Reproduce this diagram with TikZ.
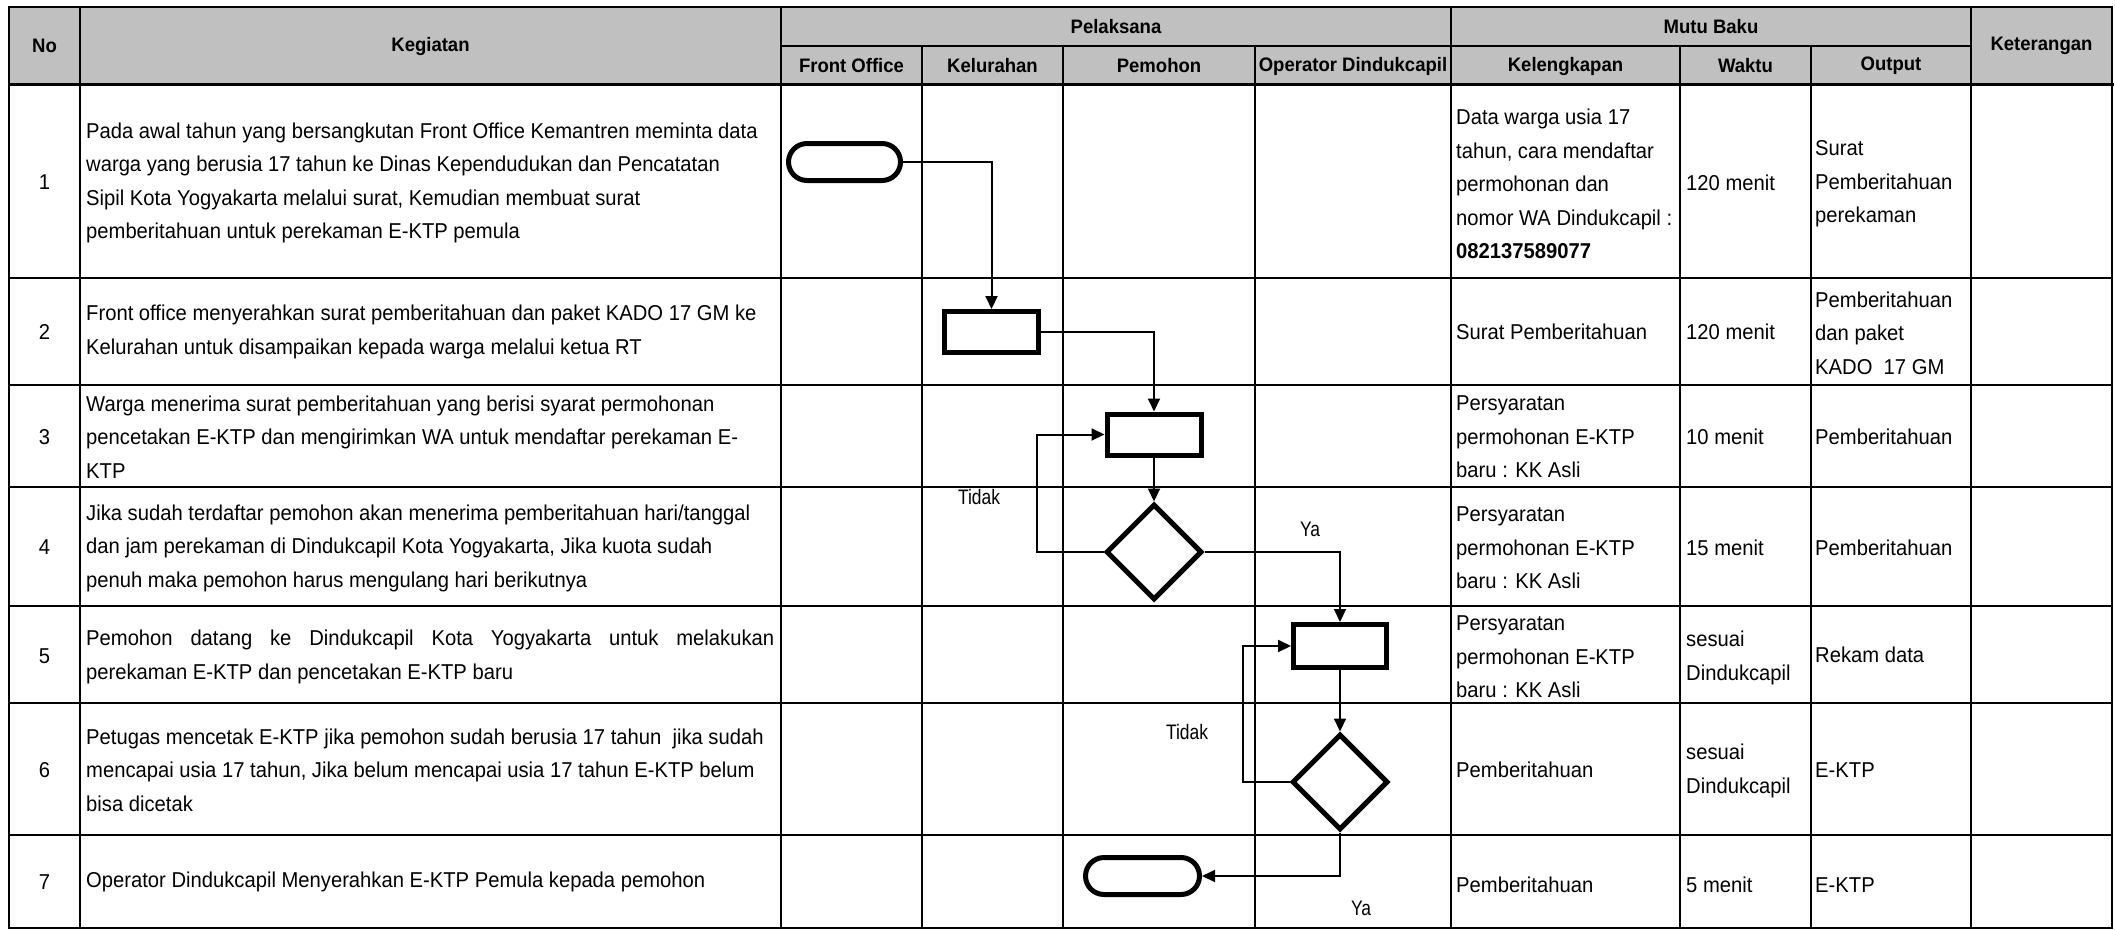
\documentclass[tikz,border=0pt]{standalone}
\usepackage{fontspec}
\setmainfont{Liberation Sans}
\newfontfamily\bodyfont{Liberation Sans}[FakeStretch=0.94]
\newfontfamily\headfont{Liberation Sans}[FakeStretch=0.95]
\newfontfamily\narrowfont{Liberation Sans}[FakeStretch=0.83]
\usetikzlibrary{arrows.meta,shapes.geometric,shapes.misc}
\definecolor{headgray}{RGB}{192,192,192}
\tikzset{
  gridline/.style={line width=2.2bp, line cap=rect},
  body/.style={font=\bodyfont\fontsize{21.5bp}{33.5bp}\selectfont, inner sep=0pt, align=left, anchor=west},
  numtext/.style={font=\bodyfont\fontsize{21.5bp}{24bp}\selectfont, inner sep=0pt},
  head/.style={font=\headfont\bfseries\fontsize{19.5bp}{22bp}\selectfont, inner sep=0pt},
  tag/.style={font=\narrowfont\fontsize{21bp}{24bp}\selectfont, inner sep=0pt},
  procbox/.style={draw, line width=5bp, minimum width=94bp, minimum height=41bp, inner sep=0pt},
  decbox/.style={draw, diamond, line width=5bp, minimum width=96bp, minimum height=96bp, inner sep=0pt},
  termbox/.style={draw, rounded rectangle, line width=5bp, minimum width=112bp, minimum height=37bp, inner sep=0pt},
  flow/.style={line width=2bp, -{Triangle[length=13bp,width=12bp]}},
}
\begin{document}
\begin{tikzpicture}[x=1bp,y=-1bp]
\useasboundingbox (0,0) rectangle (2115,930);
\fill[white] (0,0) rectangle (2115,930);

% ---------- table frame ----------
\fill[headgray] (9,7) rectangle (2112,84);
\draw[gridline] (9,7) -- (2112,7);
\draw[gridline] (781,46) -- (1971,46);
\draw[gridline, line width=3bp] (9,84) -- (2112,84);
\foreach \y in {278,385,487,606,703,835,928} \draw[gridline] (9,\y) -- (2112,\y);
\foreach \x in {9,80,781,1451,1971,2112} \draw[gridline] (\x,7) -- (\x,928);
\foreach \x in {922,1063,1255,1680,1811} \draw[gridline] (\x,46) -- (\x,928);

% ---------- header ----------
\node[head] (hno)  at (44.5,46)  {No};
\node[head] (hkeg) at (430.5,46) {Kegiatan};
\node[head] (hpel) at (1116,27)  {Pelaksana};
\node[head] (hmut) at (1711,27)  {Mutu Baku};
\node[head] (hket) at (2041.5,46) {Keterangan};
\node[head] (hfo)  at (851.5,66) {Front Office};
\node[head] (hkel) at (992.5,66) {Kelurahan};
\node[head] (hpem) at (1159,66)  {Pemohon};
\node[head] (hop)  at (1353,66)  {Operator Dindukcapil};
\node[head] (hklk) at (1565.5,66) {Kelengkapan};
\node[head] (hwkt) at (1745.5,66) {Waktu};
\node[head] (hout) at (1891,66)  {Output};

% ---------- row numbers ----------
\node[numtext] (n1) at (44.5,182) {1};
\node[numtext] (n2) at (44.5,332) {2};
\node[numtext] (n3) at (44.5,437) {3};
\node[numtext] (n4) at (44.5,547) {4};
\node[numtext] (n5) at (44.5,656) {5};
\node[numtext] (n6) at (44.5,770) {6};
\node[numtext] (n7) at (44.5,882) {7};

% ---------- activities ----------
\node[body] (k1) at (86,183) {Pada awal tahun yang bersangkutan Front Office Kemantren meminta data\\
  warga yang berusia 17 tahun ke Dinas Kependudukan dan Pencatatan\\
  Sipil Kota Yogyakarta melalui surat, Kemudian membuat surat\\
  pemberitahuan untuk perekaman E-KTP pemula};
\node[body] (k2) at (86,332) {Front office menyerahkan surat pemberitahuan dan paket KADO 17 GM ke\\
  Kelurahan untuk disampaikan kepada warga melalui ketua RT};
\node[body] (k3) at (86,437) {Warga menerima surat pemberitahuan yang berisi syarat permohonan\\
  pencetakan E-KTP dan mengirimkan WA untuk mendaftar perekaman E-\\
  KTP};
\node[body] (k4) at (86,548) {Jika sudah terdaftar pemohon akan menerima pemberitahuan hari/tanggal\\
  dan jam perekaman di Dindukcapil Kota Yogyakarta, Jika kuota sudah\\
  penuh maka pemohon harus mengulang hari berikutnya};
\node[body] (k5) at (86,657) {\makebox[688bp][s]{Pemohon datang ke Dindukcapil Kota Yogyakarta untuk melakukan}\\
  perekaman E-KTP dan pencetakan E-KTP baru};
\node[body] (k6) at (86,770) {Petugas mencetak E-KTP jika pemohon sudah berusia 17 tahun~ jika sudah\\
  mencapai usia 17 tahun, Jika belum mencapai usia 17 tahun E-KTP belum\\
  bisa dicetak};
\node[body] (k7) at (86,882) {Operator Dindukcapil Menyerahkan E-KTP Pemula kepada pemohon};

% ---------- Kelengkapan ----------
\node[body] (l1) at (1456,184) {Data warga usia 17\\tahun, cara mendaftar\\permohonan dan\\nomor WA Dindukcapil :\\\textbf{082137589077}};
\node[body] (l2) at (1456,332) {Surat Pemberitahuan};
\node[body] (l3) at (1456,437) {Persyaratan\\permohonan E-KTP\\baru : KK Asli};
\node[body] (l4) at (1456,548) {Persyaratan\\permohonan E-KTP\\baru : KK Asli};
\node[body] (l5) at (1456,657) {Persyaratan\\permohonan E-KTP\\baru : KK Asli};
\node[body] (l6) at (1456,770) {Pemberitahuan};
\node[body] (l7) at (1456,885) {Pemberitahuan};

% ---------- Waktu ----------
\node[body] (w1) at (1686,183) {120 menit};
\node[body] (w2) at (1686,332) {120 menit};
\node[body] (w3) at (1686,437) {10 menit};
\node[body] (w4) at (1686,548) {15 menit};
\node[body] (w5) at (1686,658) {sesuai\\Dindukcapil};
\node[body] (w6) at (1686,771) {sesuai\\Dindukcapil};
\node[body] (w7) at (1686,885) {5 menit};

% ---------- Output ----------
\node[body] (o1) at (1815,184) {Surat\\Pemberitahuan\\perekaman};
\node[body] (o2) at (1815,333) {Pemberitahuan\\dan paket\\KADO~ 17 GM};
\node[body] (o3) at (1815,437) {Pemberitahuan};
\node[body] (o4) at (1815,548) {Pemberitahuan};
\node[body] (o5) at (1815,655) {Rekam data};
\node[body] (o6) at (1815,770) {E-KTP};
\node[body] (o7) at (1815,885) {E-KTP};

% ---------- flowchart ----------
\node[termbox] (s1) at (844.5,162) {};
\node[procbox] (r2) at (991.5,332) {};
\node[procbox] (r3) at (1154,434.5) {};
\node[decbox]  (d4) at (1154,552) {};
\node[procbox, minimum width=93bp, minimum height=43bp] (r5) at (1340,646) {};
\node[decbox]  (d6) at (1340,782) {};
\node[termbox, minimum width=114bp] (e7) at (1142.5,876) {};

\coordinate (t4) at (1037,552);
\coordinate (t6) at (1243,782);
\coordinate (y6) at (1340,876);

\draw[flow] (s1.east) -| (r2.north);
\draw[flow] (r2.east) -| (r3.north);
\draw[flow] (r3.south) -- (d4.north);
\draw[flow] (d4.west) -- (t4) |- (r3.west);
\draw[flow] (d4.east) -| (r5.north);
\draw[flow] (r5.south) -- (d6.north);
\draw[flow] (d6.west) -- (t6) |- (r5.west);
\draw[flow] (d6.south) -- (y6) -- (e7.east);

\node[tag] (lt4) at (979,497)  {Tidak};
\node[tag] (ly4) at (1310,529) {Ya};
\node[tag] (lt6) at (1187,732) {Tidak};
\node[tag] (ly6) at (1361,908) {Ya};
\end{tikzpicture}
\end{document}
